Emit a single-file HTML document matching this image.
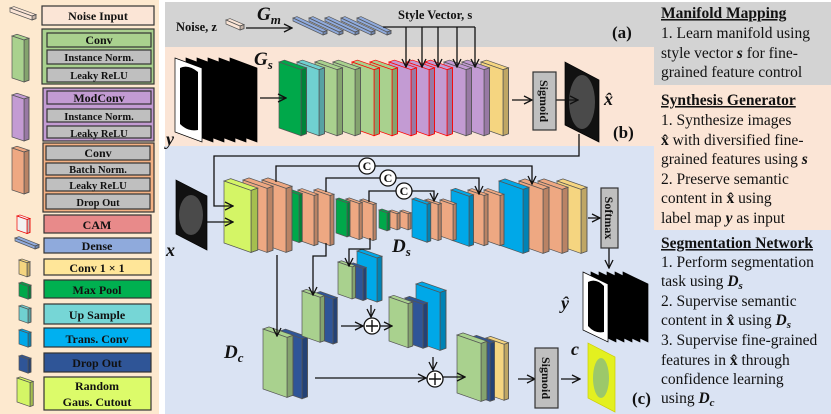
<!DOCTYPE html>
<html><head><meta charset="utf-8"><style>
html,body{margin:0;padding:0;background:#fff;}
svg{display:block;}
.lg{font-family:"Liberation Serif",serif;font-weight:bold;font-size:12px;fill:#111;}
.tp{font-family:"Liberation Serif",serif;font-size:15.5px;fill:#111;}
.lb{font-family:"Liberation Serif",serif;font-weight:bold;font-style:italic;fill:#111;}
</style></head><body>
<svg id="s" width="831" height="414" viewBox="0 0 831 414" xmlns="http://www.w3.org/2000/svg">
<defs><marker id="ar" markerWidth="10" markerHeight="10" refX="9" refY="5" orient="auto" markerUnits="userSpaceOnUse"><path d="M1,1 L9,5 L1,9" fill="none" stroke="#111" stroke-width="1.3"/></marker></defs>
<rect x="0" y="0" width="159" height="414" fill="#fde9cf"/>
<rect x="165" y="2" width="666" height="45" fill="#d3d3d3"/>
<rect x="654" y="47" width="177" height="38" fill="#d3d3d3"/>
<rect x="165" y="47" width="489" height="99" fill="#fbe5d6"/>
<rect x="654" y="85" width="177" height="145" fill="#fbe5d6"/>
<rect x="165" y="146" width="489" height="268" fill="#dae3f3"/>
<rect x="654" y="230" width="177" height="184" fill="#dae3f3"/>
<g id="shapes"></g>
<g id="lines" stroke="#111" stroke-width="1.3" fill="none"></g>
<g stroke="#333" stroke-width="1.2">
<rect x="42" y="6" width="112" height="19" fill="#fbe5d6"/>
<rect x="42" y="29" width="112" height="55" fill="#a9d18e"/>
<rect x="47" y="33" width="104" height="14" fill="#a9d18e"/>
<rect x="47" y="50" width="104" height="14" fill="#bfbfbf"/>
<rect x="47" y="68" width="104" height="14" fill="#bfbfbf"/>
<rect x="43" y="88" width="111" height="53" fill="#c39bd3"/>
<rect x="47" y="91" width="104" height="13" fill="#c39bd3"/>
<rect x="47" y="109" width="104" height="13" fill="#bfbfbf"/>
<rect x="47" y="126" width="104" height="12" fill="#bfbfbf"/>
<rect x="43" y="143" width="111" height="69" fill="#f4b183"/>
<rect x="46" y="146" width="104" height="14" fill="#bfbfbf"/>
<rect x="46" y="163" width="104" height="12" fill="#bfbfbf"/>
<rect x="46" y="178" width="104" height="13" fill="#bfbfbf"/>
<rect x="46" y="194" width="104" height="15" fill="#bfbfbf"/>
<rect x="44" y="215" width="107" height="18" fill="#e88a8a"/>
<rect x="44" y="238" width="107" height="15" fill="#8faadc"/>
<rect x="44" y="259" width="107" height="16" fill="#ffe699"/>
<rect x="44" y="280" width="107" height="18" fill="#00b050"/>
<rect x="44" y="304" width="107" height="20" fill="#76d6d6"/>
<rect x="44" y="328" width="107" height="19" fill="#00b0f0"/>
<rect x="44" y="353" width="107" height="19" fill="#2f5597"/>
<rect x="44" y="377" width="107" height="33" fill="#dcfb6a"/>
</g>
<g class="lg" text-anchor="middle">
<text x="98" y="20">Noise Input</text>
<text x="99" y="44">Conv</text>
<text x="99" y="61" font-size="10.5">Instance Norm.</text>
<text x="99" y="79" font-size="10.5">Leaky ReLU</text>
<text x="99" y="102">ModConv</text>
<text x="99" y="120" font-size="10.5">Instance Norm.</text>
<text x="99" y="137" font-size="10.5">Leaky ReLU</text>
<text x="98" y="157">Conv</text>
<text x="98" y="173" font-size="10.5">Batch Norm.</text>
<text x="98" y="189" font-size="10.5">Leaky ReLU</text>
<text x="98" y="206" font-size="10.5">Drop Out</text>
<text x="97" y="229">CAM</text>
<text x="97" y="250">Dense</text>
<text x="97" y="272">Conv 1 × 1</text>
<text x="97" y="294">Max Pool</text>
<text x="97" y="319">Up Sample</text>
<text x="97" y="343">Trans. Conv</text>
<text x="97" y="367">Drop Out</text>
<text x="97" y="390">Random</text>
<text x="97" y="406">Gaus. Cutout</text>
</g>
<g stroke="#333" stroke-width="1.2" fill="#bfbfbf">
<rect x="533" y="72" width="23" height="58"/>
<rect x="601" y="188" width="17" height="60"/>
<rect x="535" y="348" width="23" height="60"/>
</g>
<g class="lg" font-size="12">
<text transform="translate(540,101) rotate(90)" text-anchor="middle">Sigmoid</text>
<text transform="translate(605,218) rotate(90)" text-anchor="middle">Softmax</text>
<text transform="translate(542,378) rotate(90)" text-anchor="middle">Sigmoid</text>
</g>
<g stroke="#111" stroke-width="1.3" fill="#fff">
<circle cx="367" cy="166" r="8"/><circle cx="388" cy="178" r="8"/><circle cx="404" cy="191" r="8"/>
<circle cx="372" cy="326" r="8"/><circle cx="435" cy="379" r="8"/>
</g>
<g class="lg" font-size="11" text-anchor="middle"><text x="367" y="170">C</text><text x="388" y="182">C</text><text x="404" y="195">C</text></g>
<g stroke="#111" stroke-width="1.4"><path d="M372,320v12M366,326h12M435,373v12M429,379h12"/></g>
<g id="lab" class="lb">
<text x="257" y="20" font-size="19">G<tspan font-size="13" dy="4">m</tspan></text>
<text x="254" y="65" font-size="19">G<tspan font-size="13" dy="4">s</tspan></text>
<text x="392" y="252" font-size="19">D<tspan font-size="13" dy="4">s</tspan></text>
<text x="224" y="358" font-size="19">D<tspan font-size="13" dy="4">c</tspan></text>
<text x="166" y="145" font-size="18">y</text>
<text x="166" y="256" font-size="18">x</text>
<text x="604" y="105" font-size="18">x̂</text>
<text x="561" y="309" font-size="18">ŷ</text>
<text x="571" y="355" font-size="18">c</text>
</g>
<g font-family="Liberation Serif,serif" font-weight="bold" fill="#111">
<text x="176" y="31" font-size="12.5">Noise, z</text>
<text x="398" y="19" font-size="12.5">Style Vector, s</text>
<text x="612" y="38" font-size="17">(a)</text>
<text x="613" y="138" font-size="17">(b)</text>
<text x="632" y="404" font-size="17">(c)</text>
</g>
<g class="tp">
<text x="661" y="18" font-weight="bold" text-decoration="underline">Manifold Mapping</text>
<text x="661" y="38">1. Learn manifold using</text>
<text x="661" y="58">style vector <tspan font-weight="bold" font-style="italic">s</tspan> for fine-</text>
<text x="661" y="77">grained feature control</text>
<text x="661" y="105" font-weight="bold" text-decoration="underline">Synthesis Generator</text>
<text x="661" y="125">1. Synthesize images</text>
<text x="661" y="145"><tspan font-weight="bold">x̂</tspan>  with diversified fine-</text>
<text x="661" y="164">grained features using <tspan font-weight="bold" font-style="italic">s</tspan></text>
<text x="661" y="184">2. Preserve semantic</text>
<text x="661" y="203">content in <tspan font-weight="bold">x̂</tspan>  using</text>
<text x="661" y="223">label map <tspan font-weight="bold" font-style="italic">y</tspan> as input</text>
<text x="661" y="248" font-weight="bold" text-decoration="underline">Segmentation Network</text>
<text x="661" y="267">1. Perform segmentation</text>
<text x="661" y="286">task using <tspan font-weight="bold" font-style="italic">D<tspan font-size="11" dy="3">s</tspan></tspan></text>
<text x="661" y="306">2. Supervise semantic</text>
<text x="661" y="325">content in <tspan font-weight="bold">x̂</tspan> using <tspan font-weight="bold" font-style="italic">D<tspan font-size="11" dy="3">s</tspan></tspan></text>
<text x="661" y="345">3. Supervise fine-grained</text>
<text x="661" y="365">features in <tspan font-weight="bold">x̂</tspan> through</text>
<text x="661" y="384">confidence learning</text>
<text x="661" y="403">using <tspan font-weight="bold" font-style="italic">D<tspan font-size="11" dy="3">c</tspan></tspan></text>
</g>
</svg>
<script>
var NS="http://www.w3.org/2000/svg",G=document.getElementById("shapes"),L=document.getElementById("lines");
function el(p,t,a){var e=document.createElementNS(NS,t);for(var k in a)e.setAttribute(k,a[k]);p.appendChild(e);return e;}
function poly(pts,fill,stroke,sw){return el(G,"polygon",{points:pts.map(function(p){return p.join(",")}).join(" "),fill:fill,stroke:stroke||"#555","stroke-width":sw||0.7});}
function slab(x,y,w,h,fill,o){o=o||{};var s=o.s!=null?o.s:w*0.35,t=o.t!=null?o.t:Math.max(3,w*0.25),st=o.stroke||"#555";
 poly([[x,y],[x+t,y-t*0.35],[x+w+t,y+s-t*0.35],[x+w,y+s]],fill,st);
 poly([[x+w,y+s],[x+w+t,y+s-t*0.35],[x+w+t,y+s+h-t*0.35],[x+w,y+s+h]],fill,st);
 poly([[x+w,y+s],[x+w+t,y+s-t*0.35],[x+w+t,y+s+h-t*0.35],[x+w,y+s+h]],"rgba(0,0,0,0.22)",st);
 poly([[x,y],[x+w,y+s],[x+w,y+s+h],[x,y+h]],fill,st);}
function many(a){for(var i=a.length-1;i>=0;i--)slab.apply(null,a[i]);}
var PE="#eea882",GR="#a9d18e",PU="#c39bd3",BL="#00a8e8",NV="#2f5597",YE="#f5d580",MG="#00a84a",LI="#d4f566",CY="#70d0d0";
slab(10,8,22,4,"#fbe5d6",{s:8,t:4});
slab(12,36,12,42,GR,{s:4,t:5});
slab(12,95,12,42,PU,{s:4,t:5});
slab(12,148,12,42,PE,{s:4,t:5});
slab(17,216,10,14,"#f2f2f2",{stroke:"#e00"});
slab(15,238,20,3,"#8faadc",{s:8,t:4});
slab(19,260,8,14,YE);
slab(19,283,9,13,MG);
slab(19,306,9,14,CY);
slab(19,330,9,14,BL);
slab(19,356,9,14,NV);
slab(17,378,13,24,LI);
slab(226,20,14,4,"#fbe5d6",{s:6,t:4});
for(var i=4;i>=0;i--)slab(293+i*16,18,30,3,"#8faadc",{s:14,t:4});
for(var i=5;i>=0;i--){poly([[175+i*11,58],[202+i*11,68],[202+i*11,142],[175+i*11,132]],i==0?"#fff":"#000","#000");}
el(G,"path",{d:"M180,68 q8,-4 18,4 v58 q-10,2 -18,-6 z",fill:"#000"});
var gs=[[279,62,22,66,MG],[297,62,22,66,CY],[315,62,22,66,GR],[333,62,22,66,GR],[352,62,22,66,GR,{stroke:"#f00"}],[370,62,22,66,GR,{stroke:"#f00"}],[389,62,22,66,PU,{stroke:"#f00"}],[407,62,22,66,PU,{stroke:"#f00"}],[425,62,22,66,PU,{stroke:"#f00"}],[444,62,22,66,PU],[462,62,22,66,PU],[481,62,22,66,YE]];
many(gs);
poly([[565,62],[599,80],[599,142],[565,125]],"#111","#000");
el(G,"ellipse",{cx:582,cy:102,rx:13,ry:27,fill:"#4a4a4a"});
poly([[176,180],[207,196],[207,250],[176,234]],"#111","#000");
el(G,"ellipse",{cx:191,cy:215,rx:12,ry:20,fill:"#4a4a4a"});
var ds=[[224,181,27,62,LI],[243,180,24,64,PE],[262,180,24,64,PE],[286,190,13,48,MG],[298,190,16,50,PE],[314,190,16,50,PE],[336,199,11,34,MG],[346,199,13,36,PE],[360,200,13,36,PE],[379,210,8,18,MG],[389,211,8,16,PE],[400,211,8,16,PE],[412,199,15,38,BL],[425,200,13,36,PE],[440,200,13,36,PE],[451,190,18,50,BL],[468,190,16,50,PE],[484,190,16,50,PE],[499,181,24,64,BL],[519,181,24,64,PE],[538,181,24,64,PE],[557,181,24,64,YE]];
many(ds);
for(var i=5;i>=0;i--){poly([[583+i*8,272],[608+i*8,284],[608+i*8,342],[583+i*8,330]],i==0?"#fff":"#000","#000");}
el(G,"path",{d:"M588,282 q8,-4 16,4 v46 q-9,2 -16,-6 z",fill:"#000"});
many([[263,329,24,60,GR],[280,331,22,60,NV]]);
many([[302,291,18,45,GR],[316,293,17,45,NV]]);
slab(357,251,20,44,BL);
many([[338,262,14,32,GR],[350,264,13,32,NV]]);
slab(416,284,24,58,BL);
many([[389,297,19,44,GR],[405,298,18,44,NV]]);
many([[457,335,24,58,GR],[472,337,18,58,NV],[486,338,18,56,YE]]);
poly([[588,343],[615,357],[615,412],[588,398]],"#e3f020","#cc0");
el(G,"ellipse",{cx:601,cy:378,rx:8,ry:20,fill:"#9cc86a"});
function ln(d,a){var p=el(L,"path",{d:d});if(a)p.setAttribute("marker-end","url(#ar)");}
ln("M246,28H292",1);
ln("M383,27H475");
[406,422,438,457,475].forEach(function(x){ln("M"+x+",27V67",1);});
ln("M260,98H286",1);ln("M512,100H532",1);ln("M556,100H578",1);
ln("M579,134V156H214V206H233",1);ln("M207,222H233",1);
ln("M276,182V166H359M375,166H532V184",1);
ln("M326,192V178H380M396,178H479V194",1);
ln("M369,202V191H396M412,191H434V201",1);
ln("M277,255V336",1);
ln("M326,243V256H313V295",1);
ln("M370,238V249H349V266",1);
ln("M341,326H363",1);ln("M380,326H392",1);
ln("M371,305V317",1);ln("M433,357V370",1);
ln("M315,378H426",1);ln("M443,377H465",1);
ln("M518,379H535",1);ln("M561,379H580",1);
ln("M588,218H600",1);ln("M609,248V268",1);
</script>
</body></html>
